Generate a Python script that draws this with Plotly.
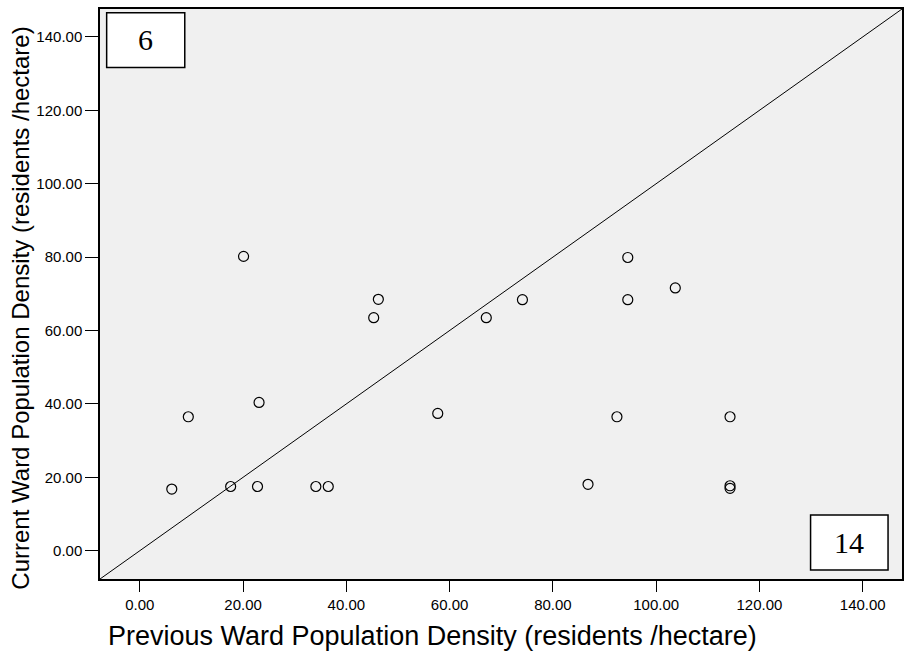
import plotly.graph_objects as go

# Ward population densities (residents / hectare)
previous_density = [20.1, 46.2, 45.3, 23.1, 9.4, 6.2,
                    94.5, 74.1, 67.1, 94.5, 103.7, 57.7, 92.4,
                    17.6, 22.8, 34.1, 36.5, 114.3, 86.8, 114.3, 114.3]
current_density = [80.2, 68.5, 63.5, 40.4, 36.5, 16.8,
                   79.9, 68.4, 63.5, 68.4, 71.6, 37.4, 36.5,
                   17.5, 17.5, 17.5, 17.5, 36.5, 18.1, 17.7, 17.0]

tick_values = [0, 20, 40, 60, 80, 100, 120, 140]
count_above = "6"
count_below = "14"

AXIS_MIN, AXIS_MAX = -7.7, 147.6

fig = go.Figure()

# identity line y = x
fig.add_trace(go.Scatter(
    x=[AXIS_MIN, AXIS_MAX], y=[AXIS_MIN, AXIS_MAX],
    mode="lines", line=dict(color="black", width=1),
    hoverinfo="skip", showlegend=False,
))

fig.add_trace(go.Scatter(
    x=previous_density, y=current_density, mode="markers",
    marker=dict(symbol="circle-open", size=10, color="black",
                line=dict(color="black", width=1.2)),
    showlegend=False,
))

axis_common = dict(
    range=[AXIS_MIN, AXIS_MAX], tickvals=tick_values, tickformat=".2f",
    showgrid=False, zeroline=False, showline=True, linecolor="black",
    linewidth=1.5, mirror=True, ticks="outside", tickcolor="black",
    tickfont=dict(family="Liberation Sans, Arial", size=15, color="black"),
)
fig.update_xaxes(**axis_common, ticklen=11, tickwidth=1)
fig.update_yaxes(**axis_common, ticklen=13, tickwidth=1)

# count boxes
fig.add_shape(type="rect", xref="paper", yref="paper",
              x0=0.0083, x1=0.1057, y0=0.8972, y1=0.9935,
              fillcolor="white", line=dict(color="black", width=1.5))
fig.add_shape(type="rect", xref="paper", yref="paper",
              x0=0.886, x1=0.9826, y0=0.0158, y1=0.1121,
              fillcolor="white", line=dict(color="black", width=1.5))

serif = dict(family="Liberation Serif, Times New Roman", size=30, color="black")
fig.add_annotation(text=count_above, xref="paper", yref="paper",
                   x=0.0572, y=0.9457, showarrow=False, font=serif,
                   xanchor="center", yanchor="middle")
fig.add_annotation(text=count_below, xref="paper", yref="paper",
                   x=0.934, y=0.0648, showarrow=False, font=serif,
                   xanchor="center", yanchor="middle")

# axis titles
fig.add_annotation(text="Previous Ward Population Density (residents /hectare)",
                   xref="paper", yref="paper", x=0.4148, y=-0.0998,
                   showarrow=False, xanchor="center", yanchor="middle",
                   font=dict(family="Liberation Sans, Arial", size=27, color="black"))
fig.add_annotation(text="Current Ward Population Density (residents /hectare)",
                   xref="paper", yref="paper", x=-0.0995, y=0.4746,
                   showarrow=False, xanchor="center", yanchor="middle",
                   textangle=-90,
                   font=dict(family="Liberation Sans, Arial", size=24, color="black"))

fig.update_layout(
    width=911, height=654,
    margin=dict(l=100, r=7, t=8, b=75),
    plot_bgcolor="#F0F0F0", paper_bgcolor="white",
)

fig.write_html("out.html")
